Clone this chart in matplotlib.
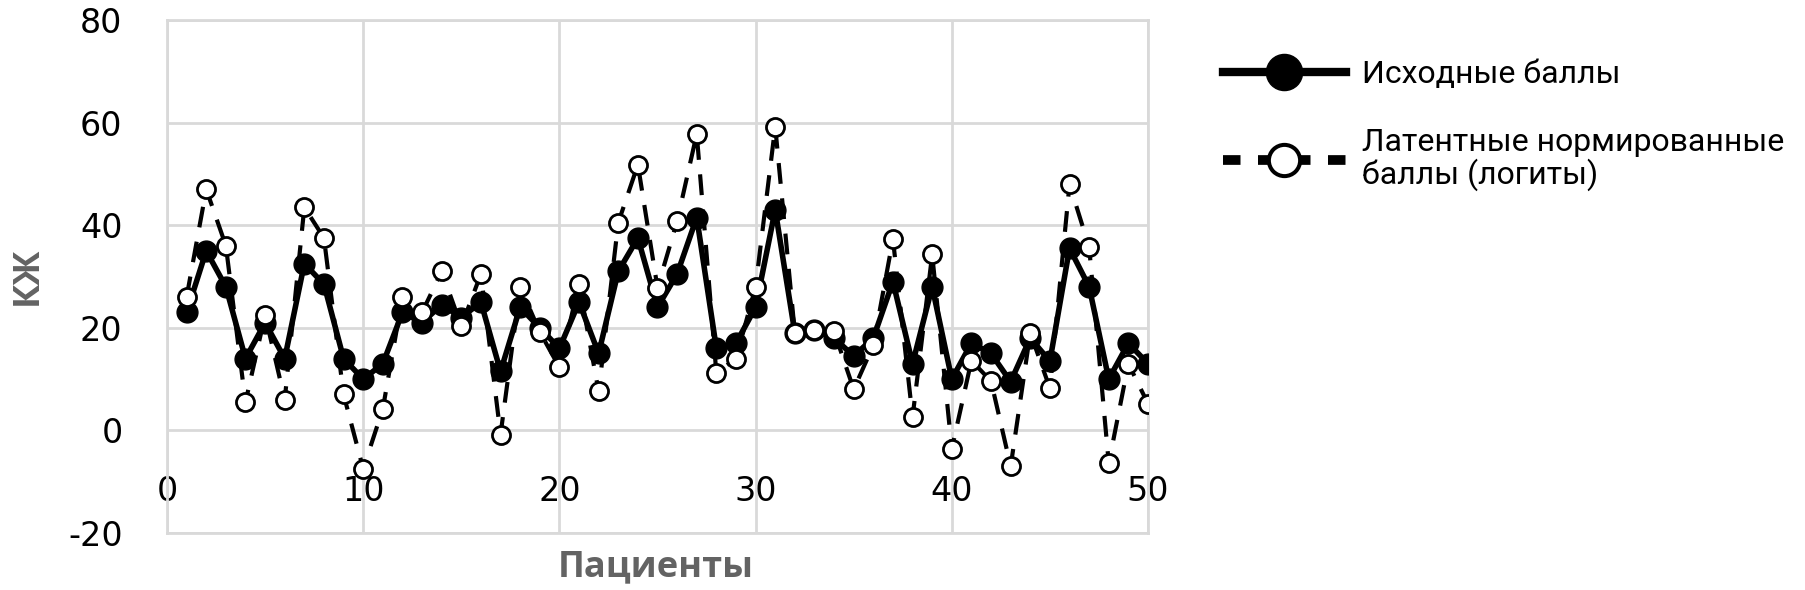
import matplotlib.pyplot as plt
from matplotlib.lines import Line2D
import numpy as np

plt.rcParams['axes.unicode_minus'] = False

# patients 1..50
patients = np.arange(1, 51)

# raw scores (Исходные баллы)
raw = [23, 35, 28, 14, 21, 14, 32.5, 28.5, 14, 10,
       13, 23, 21, 24.5, 22, 25, 11.5, 24, 20, 16,
       25, 15, 31, 37.5, 24, 30.5, 41.5, 16, 17, 24,
       43, 19, 19.5, 18, 14.5, 18, 29, 13, 28, 10,
       17, 15, 9.5, 18, 13.5, 35.5, 28, 10, 17, 13]

# latent normalised scores (logits)
logit = [26, 47, 36, 5.5, 22.5, 6, 43.5, 37.5, 7, -7.5,
         4.2, 26, 23, 31, 20.3, 30.5, -0.8, 28, 19.2, 12.3,
         28.5, 7.6, 40.5, 51.8, 27.8, 40.8, 57.8, 11.2, 14, 28,
         59.2, 19, 19.6, 19.3, 8, 16.6, 37.3, 2.6, 34.3, -3.6,
         13.6, 9.6, -7, 19, 8.2, 48, 35.7, -6.4, 13, 5.2]

label_raw = 'Исходные баллы'
label_logit = 'Латентные нормированные\nбаллы (логиты)'

grid_c = '#d9d9d9'
lab_c = '#636363'

W, H = 1806, 590
fig = plt.figure(figsize=(W / 100, H / 100), dpi=100)
ax = fig.add_axes([167 / W, 1 - 533 / H, (1148 - 167) / W, (533 - 20) / H])

ax.plot(patients, raw, '-', color='black', lw=4, marker='o', ms=15,
        mfc='black', mec='black', zorder=3)
ax.plot(patients, logit, color='black', lw=3, dashes=(5, 3.5), marker='o', ms=13,
        mfc='white', mec='black', mew=2, zorder=4)

ax.set_xlim(0, 50)
ax.set_ylim(-20, 80)
ax.set_xticks(range(0, 51, 10))
ax.set_yticks(range(-20, 81, 20))
ax.grid(True, color=grid_c, lw=2, zorder=0)
ax.set_axisbelow(True)

for s in ax.spines.values():
    s.set_color(grid_c)
    s.set_linewidth(2)
ax.spines['bottom'].set_position(('data', 0))
ax.spines['bottom'].set_visible(False)
ax.axhline(-20, color=grid_c, lw=2, zorder=0, clip_on=False)

ax.tick_params(axis='both', length=0, labelsize=24, colors='black')
ax.tick_params(axis='x', pad=32)
ax.tick_params(axis='y', pad=32)

fig.text(28 / W, 1 - 276 / H, 'КЖ', rotation=90, ha='center', va='center',
         fontsize=26, fontweight='bold', color=lab_c, family='Open Sans')
fig.text(656 / W, 1 - 567 / H, 'Пациенты', ha='center', va='center',
         fontsize=26, fontweight='bold', color=lab_c, family='Open Sans')

# legend
h1 = Line2D([], [], color='black', lw=6, marker='o', ms=26, mfc='black', mec='black')
h2 = Line2D([], [], color='black', lw=7, dashes=(1.8, 1.8), marker='o', ms=22.5,
            mfc='white', mec='black', mew=2.9)
leg = fig.legend([h1, h2], [label_raw, label_logit], loc='upper left',
                 bbox_to_anchor=(1223 / W, 1 - 60 / H), frameon=False,
                 borderpad=0, borderaxespad=0,
                 handlelength=3.85, handletextpad=0.5, labelspacing=1.22,
                 prop={'family': 'Roboto', 'size': 23})
for t in leg.get_texts():
    t.set_linespacing(1.05)

fig.savefig('out.png', dpi=100)
